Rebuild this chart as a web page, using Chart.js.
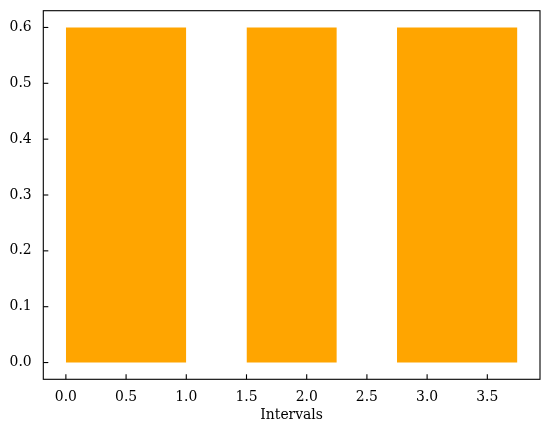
<!DOCTYPE html>
<html>
<head>
<meta charset="utf-8">
<script src="https://cdn.jsdelivr.net/npm/chart.js@4.4.1/dist/chart.umd.min.js"></script>
<style>
html, body { margin: 0; padding: 0; background: #fff; }
#wrap { width: 549px; height: 434px; }
</style>
</head>
<body>
<div id="wrap"><canvas id="chart"></canvas></div>
<script>
// interval data (start, width) and common bar height
const starts = [0.0, 1.5, 2.75];
const widths = [1.0, 0.75, 1.0];
const barHeight = 0.6;
const xTicks = [0.0, 0.5, 1.0, 1.5, 2.0, 2.5, 3.0, 3.5];
const yTicks = [0.0, 0.1, 0.2, 0.3, 0.4, 0.5, 0.6];
const xLabel = 'Intervals';

const FONT = 'DejaVu Serif';

// one filled line per interval, filled down to y=0
const datasets = starts.map((s, i) => ({
    data: [{ x: s, y: barHeight }, { x: s + widths[i], y: barHeight }],
    showLine: true,
    fill: 'origin',
    backgroundColor: '#FFA500',
    borderWidth: 0,
    pointRadius: 0
}));

// axes box and inward ticks, like matplotlib
const framePlugin = {
    id: 'frame',
    afterDraw(chart) {
        const { ctx, chartArea: a, scales } = chart;
        ctx.save();
        ctx.strokeStyle = '#000';
        ctx.lineWidth = 1.1;
        ctx.strokeRect(a.left, a.top, a.right - a.left, a.bottom - a.top);
        scales.x.ticks.forEach(t => {
            const px = scales.x.getPixelForValue(t.value);
            ctx.beginPath();
            ctx.moveTo(px, a.bottom);
            ctx.lineTo(px, a.bottom - 5);
            ctx.stroke();
        });
        scales.y.ticks.forEach(t => {
            const py = scales.y.getPixelForValue(t.value);
            ctx.beginPath();
            ctx.moveTo(a.left, py);
            ctx.lineTo(a.left + 5, py);
            ctx.stroke();
        });
        ctx.restore();
    }
};

new Chart(document.getElementById('chart'), {
    type: 'scatter',
    data: { datasets },
    options: {
        responsive: true,
        maintainAspectRatio: false,
        animation: false,
        layout: { padding: { top: 10.7, right: 9, left: 0, bottom: 0 } },
        plugins: {
            legend: { display: false },
            tooltip: { enabled: false }
        },
        scales: {
            x: {
                type: 'linear',
                min: -0.1875,
                max: 3.9375,
                afterBuildTicks: s => { s.ticks = xTicks.map(v => ({ value: v })); },
                afterFit: s => { s.height = 54.7; s.paddingLeft = 0; s.paddingRight = 0; },
                grid: { display: false, drawTicks: false },
                border: { display: false },
                ticks: {
                    padding: 10,
                    color: '#000',
                    maxRotation: 0,
                    autoSkip: false,
                    font: { family: FONT, size: 13.9 },
                    callback: v => v.toFixed(1)
                },
                title: {
                    display: true,
                    text: xLabel,
                    color: '#000',
                    padding: { top: 0, bottom: 10.5 },
                    font: { family: FONT, size: 13.9 }
                }
            },
            y: {
                type: 'linear',
                min: -0.03,
                max: 0.63,
                afterBuildTicks: s => { s.ticks = yTicks.map(v => ({ value: v })); },
                afterFit: s => { s.width = 43.3; s.paddingTop = 0; s.paddingBottom = 0; },
                grid: { display: false, drawTicks: false },
                border: { display: false },
                ticks: {
                    padding: 11.6,
                    color: '#000',
                    autoSkip: false,
                    font: { family: FONT, size: 13.9 },
                    callback: v => v.toFixed(1)
                }
            }
        }
    },
    plugins: [framePlugin]
});
</script>
</body>
</html>
